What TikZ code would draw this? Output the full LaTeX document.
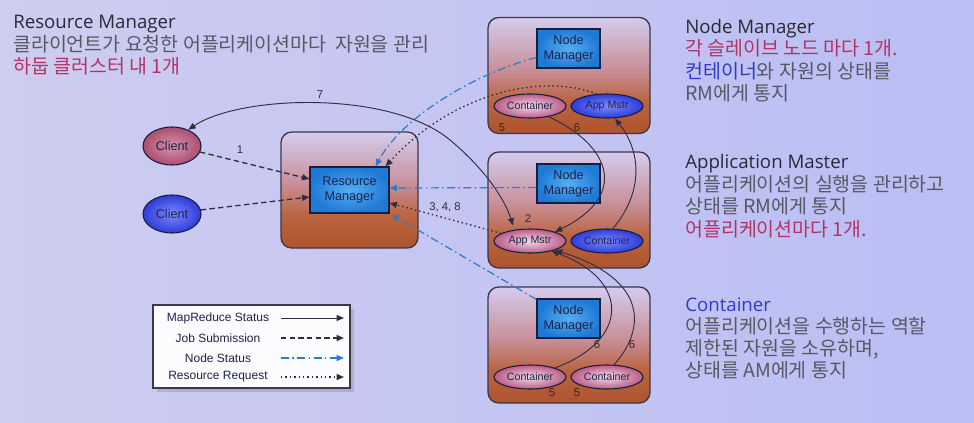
\documentclass[tikz,border=0pt]{standalone}
\usepackage{fontspec}
\setmainfont{Liberation Sans}
\newfontfamily\krfont{Noto Sans CJK KR}
\newfontfamily\headfont{Open Sans}
\usetikzlibrary{arrows.meta,shapes.geometric,shadows,calc}

% palette
\definecolor{bgL}{RGB}{206,204,240}
\definecolor{bgR}{RGB}{186,190,244}
\definecolor{boxtop}{RGB}{212,204,238}
\definecolor{boxmid}{RGB}{200,144,154}
\definecolor{boxlow}{RGB}{186,100,64}
\definecolor{boxbot}{RGB}{174,84,46}
\definecolor{boxline}{RGB}{58,56,74}
\definecolor{coreIn}{RGB}{86,172,242}
\definecolor{coreOut}{RGB}{30,122,214}
\definecolor{coreLine}{RGB}{22,30,62}
\definecolor{pinkIn}{RGB}{242,218,234}
\definecolor{pinkOut}{RGB}{186,92,134}
\definecolor{clientIn}{RGB}{212,146,172}
\definecolor{clientOut}{RGB}{172,78,112}
\definecolor{blueIn}{RGB}{124,136,255}
\definecolor{blueOut}{RGB}{46,60,216}
\definecolor{labelcol}{RGB}{30,36,72}
\definecolor{linecol}{RGB}{48,46,62}
\definecolor{nsblue}{RGB}{44,124,200}
\definecolor{headcol}{RGB}{42,42,54}
\definecolor{bodycol}{RGB}{88,88,100}
\definecolor{rosecol}{RGB}{178,52,100}
\definecolor{kblue}{RGB}{48,58,200}
\definecolor{numcol}{RGB}{64,36,28}

% node-box fill: light at the top, orange-brown at the bottom
\pgfdeclareverticalshading{boxshade}{100bp}{color(0bp)=(boxbot); color(25bp)=(boxbot); color(39bp)=(boxlow); color(53bp)=(boxmid); color(75bp)=(boxtop); color(100bp)=(boxtop)}

\begin{document}
\begin{tikzpicture}[x=0.75pt,y=-0.75pt,
  outerbox/.style={draw=boxline, line width=1pt, rounded corners=8pt, shading=boxshade,
    minimum width=121.5pt, minimum height=87pt, inner sep=0pt},
  corebox/.style={draw=coreLine, line width=0.9pt, inner color=coreIn, outer color=coreOut,
    align=center, text=labelcol, font=\fontsize{9.5}{11.2}\selectfont, inner sep=0pt},
  pinkell/.style={ellipse, draw=coreLine, line width=0.8pt, inner color=pinkIn, outer color=pinkOut,
    inner sep=0pt, text=labelcol},
  blueell/.style={ellipse, draw=coreLine, line width=0.8pt, inner color=blueIn, outer color=blueOut,
    inner sep=0pt, text=labelcol},
  smallell/.style={minimum width=54pt, minimum height=18pt, font=\fontsize{8}{9}\selectfont},
  clientell/.style={minimum width=43.5pt, minimum height=28.5pt, font=\fontsize{9.5}{11}\selectfont},
  numlabel/.style={text=linecol, font=\fontsize{8.5}{10}\selectfont, inner sep=0pt},
  boxnum/.style={text=numcol, font=\fontsize{8.5}{10}\selectfont, inner sep=0pt},
  mrline/.style={draw=linecol, line width=0.7pt, -{Triangle[length=5.5pt,width=4.5pt]}},
  jobline/.style={draw=linecol, line width=1pt, dash pattern=on 4pt off 2.5pt,
    -{Triangle[length=5.5pt,width=4.5pt]}},
  nodeline/.style={draw=nsblue, line width=0.9pt, dash pattern=on 6pt off 2.5pt on 1.2pt off 2.5pt,
    -{Triangle[length=5.5pt,width=4.5pt,fill=nsblue]}},
  reqline/.style={draw=linecol, line width=1pt, dash pattern=on 1.1pt off 2.2pt,
    -{Triangle[length=5.5pt,width=4.5pt]}},
  legendtxt/.style={text=labelcol, font=\fontsize{9}{10}\selectfont, inner sep=0pt},
  headtxt/.style={anchor=base west, inner sep=0pt, text=headcol, font=\headfont\fontsize{14}{16}\selectfont},
  bodytxt/.style={anchor=base west, inner sep=0pt, text=bodycol, font=\krfont\fontsize{14.6}{17}\selectfont},
]
\useasboundingbox (0,0) rectangle (974,422);
\fill[left color=bgL, right color=bgR] (0,0) rectangle (974,422);

% ---------- description texts ----------
\node[headtxt] (rmhead) at (13,28) {Resource Manager};
\node[bodytxt] (rmline1) at (13,51) {클라이언트가 요청한 어플리케이션마다\ \ 자원을 관리};
\node[bodytxt, text=rosecol] (rmline2) at (13,73) {하둡 클러스터 내 1개};

\node[headtxt] (nmhead) at (685,33) {Node Manager};
\node[bodytxt, text=rosecol] (nmline1) at (685,55) {각 슬레이브 노드 마다 1개.};
\node[bodytxt] (nmline2) at (685,78) {{\color{kblue}컨테이너}와 자원의 상태를};
\node[bodytxt] (nmline3) at (685,100) {RM에게 통지};

\node[headtxt] (amhead) at (685,168) {Application Master};
\node[bodytxt] (amline1) at (685,191) {어플리케이션의 실행을 관리하고};
\node[bodytxt] (amline2) at (685,213) {상태를 RM에게 통지};
\node[bodytxt, text=rosecol] (amline3) at (685,236) {어플리케이션마다 1개.};

\node[headtxt, text=kblue] (cthead) at (685,311) {Container};
\node[bodytxt] (ctline1) at (685,333) {어플리케이션을 수행하는 역할};
\node[bodytxt] (ctline2) at (685,355) {제한된 자원을 소유하며,};
\node[bodytxt] (ctline3) at (685,377) {상태를 AM에게 통지};

% ---------- resource manager ----------
\node[outerbox, minimum width=102.75pt, minimum height=87pt] (rmbox) at (349.5,190) {};
\node[corebox, minimum width=59.25pt, minimum height=34.5pt] (rm) at (349.5,190) {Resource\\Manager};

% ---------- clients ----------
\node[pinkell, clientell, inner color=clientIn, outer color=clientOut] (c1) at (172,146) {Client};
\node[blueell, clientell] (c2) at (172,214) {Client};

% ---------- node managers ----------
\node[outerbox] (nmbox1) at (569,75.5) {};
\node[outerbox] (nmbox2) at (569,210) {};
\node[outerbox] (nmbox3) at (569,345) {};

\node[corebox, minimum width=47.25pt, minimum height=29.25pt] (nm1) at (568.5,48.5) {Node\\Manager};
\node[corebox, minimum width=47.25pt, minimum height=29.25pt] (nm2) at (568.5,183.5) {Node\\Manager};
\node[corebox, minimum width=47.25pt, minimum height=29.25pt] (nm3) at (568.5,318.5) {Node\\Manager};

\node[pinkell, smallell] (ct1) at (530,106) {Container};
\node[blueell, smallell] (am1) at (607,106) {App Mstr};
\node[pinkell, smallell] (am2) at (530,241) {App Mstr};
\node[blueell, smallell] (ct2) at (607,241) {Container};
\node[pinkell, smallell] (ct3a) at (530,377) {Container};
\node[pinkell, smallell] (ct3b) at (607,377) {Container};

\node[boxnum] (n5a) at (502,128) {5};
\node[boxnum] (n6a) at (577,128) {6};
\node[boxnum] (n6b) at (597,345) {6};
\node[boxnum] (n6c) at (632,345) {6};
\node[boxnum] (n5b) at (552,393) {5};
\node[boxnum] (n5c) at (577,393) {5};

% ---------- job submission ----------
\draw[jobline] (c1.-12) -- ($(rm.west)+(0,-11)$);
\draw[jobline] (c2.8) -- ($(rm.west)+(0,7)$);
\node[numlabel] (lab1) at (240,150) {1};

% ---------- node status ----------
\draw[nodeline] ($(nm1.west)+(0,9)$) .. controls (470,75) and (400,120) .. ($(rm.north east)+(-14,0)$);
\draw[nodeline] ($(nm2.west)+(0,4)$) -- ($(rm.east)+(0,-2)$);
\draw[nodeline] ($(nm3.north west)+(0,1)$) -- ($(rm.south east)+(2,1)$);

% ---------- resource requests ----------
\draw[reqline] (am1.130) .. controls (540,72) and (450,95) .. ($(rm.north east)+(-4,0)$);
\draw[reqline] (am2.165) -- ($(rm.east)+(0,13)$);
\node[numlabel] (lab348) at (445,207) {3, 4, 8};

% ---------- MapReduce status ----------
\coordinate (bend7) at (450,140);
\draw[mrline, {Triangle[length=5.5pt,width=4.5pt]}-{Triangle[length=5.5pt,width=4.5pt]}]
  ($(am2.north)+(-17,-3)$) .. controls (505,200) and (486,170) .. (bend7)
  .. controls (390,90) and (240,95) .. (c1.45);
\node[numlabel] (lab7) at (320,95) {7};
\node[numlabel] (lab2) at (528,219) {2};

\draw[mrline] (ct1.-30) .. controls (610,145) and (630,195) .. (am2.20);
\draw[mrline] ($(ct2.north)+(6,0)$) .. controls (645,190) and (640,150) .. ($(am1.south)+(8,0)$);
\draw[mrline] (ct3a.20) .. controls (630,340) and (630,280) .. (am2.-25);
\draw[mrline] (ct3b.60) .. controls (645,330) and (650,280) .. (am2.-20);

% ---------- legend ----------
\node[draw=boxline, line width=1pt, fill=white!94!bgL, drop shadow={opacity=0.35},
  minimum width=147.75pt, minimum height=62.25pt, inner sep=0pt] (legend) at (251.5,346.5) {};
\node[legendtxt] (lg1) at (218,318) {MapReduce Status};
\node[legendtxt] (lg2) at (218,338) {Job Submission};
\node[legendtxt] (lg3) at (218,358) {Node Status};
\node[legendtxt] (lg4) at (218,377) {Resource Request};
\coordinate (la1) at (281,318); \coordinate (lb1) at (344,318);
\coordinate (la2) at (281,338); \coordinate (lb2) at (344,338);
\coordinate (la3) at (281,358); \coordinate (lb3) at (344,358);
\coordinate (la4) at (281,377); \coordinate (lb4) at (344,377);
\draw[mrline] (la1) -- (lb1);
\draw[jobline] (la2) -- (lb2);
\draw[nodeline] (la3) -- (lb3);
\draw[reqline] (la4) -- (lb4);
\end{tikzpicture}
\end{document}
